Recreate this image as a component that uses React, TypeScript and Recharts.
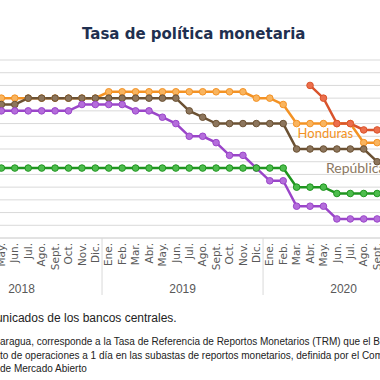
import { LineChart, Line, XAxis, YAxis, CartesianGrid, LabelList, ReferenceLine } from "recharts";

const months = ["Ene.", "Feb.", "Mar.", "Abr.", "May.", "Jun.", "Jul.", "Ago.", "Sept.", "Oct.", "Nov.", "Dic."];
const years = ["2018", "2019", "2020"];
const yTicks = [0, 0.5, 1, 1.5, 2, 2.5, 3, 3.5, 4, 4.5, 5, 5.5, 6, 6.5, 7];

// 36 months, Ene 2018 - Dic 2020
const honduras = [
  5.5, 5.5, 5.5, 5.5, 5.5, 5.5, 5.5, 5.5, 5.5, 5.5, 5.5, 5.5,
  5.75, 5.75, 5.75, 5.75, 5.75, 5.75, 5.75, 5.75, 5.75, 5.75, 5.75, 5.5,
  5.5, 5.25, 4.5, 4.5, 4.5, 4.5, 4.5, 3.75, 3.75, null, null, null,
];
const repDominicana = [
  5.25, 5.25, 5.25, 5.25, 5.25, 5.25, 5.5, 5.5, 5.5, 5.5, 5.5, 5.5,
  5.5, 5.5, 5.5, 5.5, 5.5, 5.5, 5.0, 4.75, 4.5, 4.5, 4.5, 4.5,
  4.5, 4.5, 3.5, 3.5, 3.5, 3.5, 3.5, 3.5, 3.0, null, null, null,
];
const costaRica = [
  5.0, 5.0, 5.0, 5.0, 5.0, 5.0, 5.0, 5.0, 5.0, 5.0, 5.25, 5.25,
  5.25, 5.25, 5.0, 5.0, 4.75, 4.5, 4.0, 4.0, 3.75, 3.25, 3.25, 2.75,
  2.25, 2.25, 1.25, 1.25, 1.25, 0.75, 0.75, 0.75, 0.75, null, null, null,
];
const guatemala = [
  2.75, 2.75, 2.75, 2.75, 2.75, 2.75, 2.75, 2.75, 2.75, 2.75, 2.75, 2.75,
  2.75, 2.75, 2.75, 2.75, 2.75, 2.75, 2.75, 2.75, 2.75, 2.75, 2.75, 2.75,
  2.75, 2.75, 2.0, 2.0, 2.0, 1.75, 1.75, 1.75, 1.75, null, null, null,
];
const nicaragua = [
  null, null, null, null, null, null, null, null, null, null, null, null,
  null, null, null, null, null, null, null, null, null, null, null, null,
  null, null, null, 6.0, 5.5, 4.5, 4.5, 4.25, 4.25, null, null, null,
];

const data = honduras.map((_, i) => ({
  key: `${months[i % 12]}-${years[Math.floor(i / 12)]}`,
  honduras: honduras[i],
  repDominicana: repDominicana[i],
  costaRica: costaRica[i],
  guatemala: guatemala[i],
  nicaragua: nicaragua[i],
}));

const BAND = 13.42;
const PLOT_W = BAND * 36;
const PLOT_LEFT = 1.7 - 4 * BAND - BAND / 2;
const AXIS_Y = 238;
const gray = "#595959";

function MonthTick(props: any) {
  const { x } = props;
  const i = props.index ?? props.payload?.index ?? 0;
  const m = i % 12;
  const ty = AXIS_Y + 5;
  return (
    <g>
      <text
        x={x}
        y={ty}
        transform={`rotate(-90 ${x} ${ty})`}
        textAnchor="end"
        dy="0.35em"
        fontSize={10.5}
        fontFamily="DejaVu Sans"
        fill={gray}
      >
        {months[m]}
      </text>
      {m === 5 && (
        <text x={x + BAND / 2} y={293} textAnchor="middle" fontSize={12} fontFamily="Liberation Sans" fill={gray}>
          {years[Math.floor(i / 12)]}
        </text>
      )}
      {m === 11 && <line x1={x + BAND / 2} x2={x + BAND / 2} y1={AXIS_Y} y2={AXIS_Y + 57} stroke="#d9d9d9" />}
      {i === 0 && <line x1={x - BAND / 2} x2={x - BAND / 2} y1={AXIS_Y} y2={AXIS_Y + 57} stroke="#d9d9d9" />}
    </g>
  );
}

const hnLabel = (p: any) =>
  p.index === 26 ? (
    <text x={p.x + 1} y={p.y + 14} fontSize={13} fontFamily="Lato" fill="#f39224">
      Honduras
    </text>
  ) : null;

const rdLabel = (p: any) =>
  p.index === 28 ? (
    <text x={p.x + 2.5} y={p.y + 24.5} fontSize={14} fontFamily="Lato" fill="#8b7862">
      República Dominicana
    </text>
  ) : null;

export default function App() {
  return (
    <div style={{ position: "fixed", left: 0, top: 0, width: 380, height: 380, overflow: "hidden", background: "#fff" }}>
      <div
        style={{
          position: "absolute",
          left: 0,
          width: 387.4,
          top: 25,
          textAlign: "center",
          fontFamily: "DejaVu Sans",
          fontWeight: 700,
          fontSize: 15,
          color: "#1f3050",
          lineHeight: "18px",
        }}
      >
        Tasa de política monetaria
      </div>
      <div style={{ position: "absolute", left: PLOT_LEFT, top: 0 }}>
        <LineChart width={PLOT_W} height={300} data={data} margin={{ top: 60, right: 0, bottom: 0, left: 0 }}>
          <YAxis domain={[0, 7]} ticks={yTicks} interval={0} width={0} tick={false} axisLine={false} tickLine={false} />
          {yTicks.map((v) => (
            <ReferenceLine key={v} y={v} stroke="#d9d9d9" strokeWidth={1} />
          ))}
          <XAxis
            dataKey="key"
            interval={0}
            padding={{ left: BAND / 2, right: BAND / 2 }}
            tickLine={false}
            axisLine={{ stroke: "#d9d9d9" }}
            tick={<MonthTick />}
            height={62}
          />
          <Line dataKey="honduras" stroke="#f39224" strokeWidth={2.5} isAnimationActive={false}
            dot={{ r: 3.3, fill: "#f9b45e", stroke: "#f39224", strokeWidth: 1 }}>
            <LabelList dataKey="honduras" content={hnLabel} />
          </Line>
          <Line dataKey="repDominicana" stroke="#6b5133" strokeWidth={2.5} isAnimationActive={false}
            dot={{ r: 3.3, fill: "#8c755c", stroke: "#6b5133", strokeWidth: 1 }}>
            <LabelList dataKey="repDominicana" content={rdLabel} />
          </Line>
          <Line dataKey="costaRica" stroke="#9a45c9" strokeWidth={2.5} isAnimationActive={false}
            dot={{ r: 3.3, fill: "#b46ddb", stroke: "#9a45c9", strokeWidth: 1 }} />
          <Line dataKey="guatemala" stroke="#1f951f" strokeWidth={2.5} isAnimationActive={false}
            dot={{ r: 3.3, fill: "#4dbd4d", stroke: "#1f951f", strokeWidth: 1 }} />
          <Line dataKey="nicaragua" stroke="#d9532b" strokeWidth={2.5} isAnimationActive={false}
            dot={{ r: 3.3, fill: "#ec6f4c", stroke: "#d9532b", strokeWidth: 1 }} />
        </LineChart>
      </div>
      <div style={{ position: "absolute", right: 380 - 176.7, top: 311, whiteSpace: "nowrap", fontFamily: "Liberation Sans", fontSize: 12, color: "#222" }}>
        Fuente: Comunicados de los bancos centrales.
      </div>
      <div style={{ position: "absolute", left: 0, top: 335, whiteSpace: "nowrap", fontFamily: "Liberation Sans", fontSize: 10, lineHeight: "13.5px", color: "#222" }}>
        <div>aragua, corresponde a la Tasa de Referencia de Reportos Monetarios (TRM) que el BCN</div>
        <div>to de operaciones a 1 día en las subastas de reportos monetarios, definida por el Comité de Operaciones</div>
        <div>de Mercado Abierto</div>
      </div>
    </div>
  );
}
